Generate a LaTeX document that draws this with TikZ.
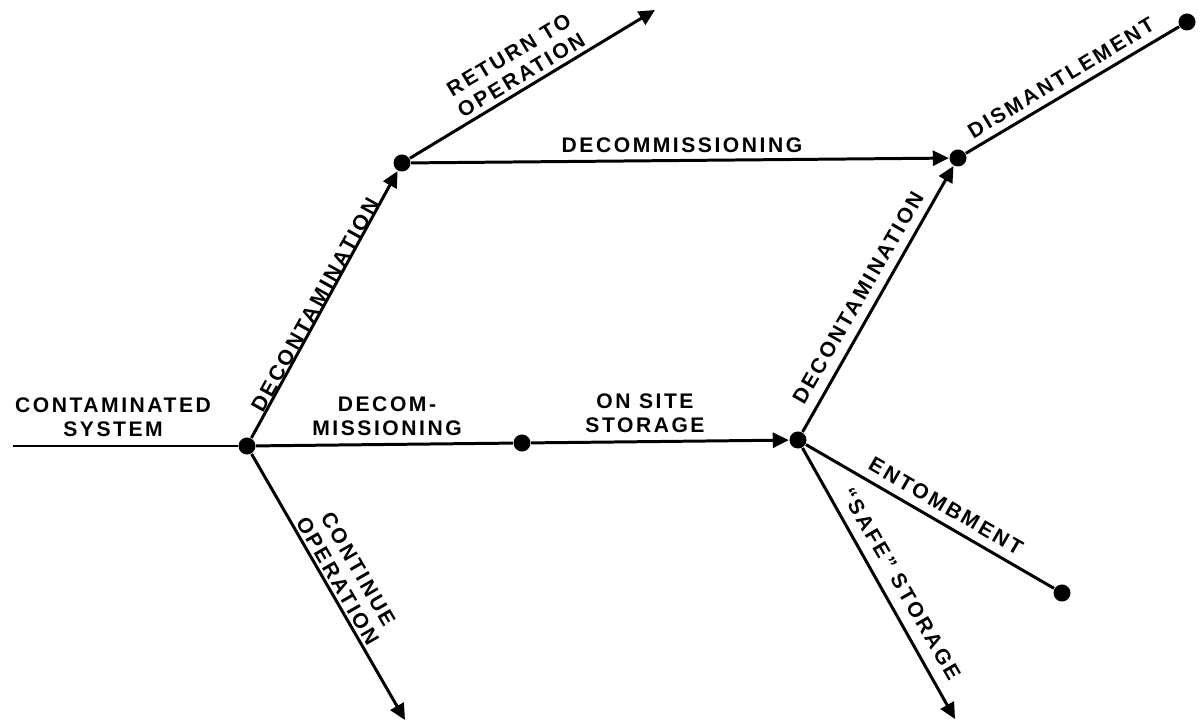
\documentclass[tikz,border=0pt]{standalone}
\usepackage{fontspec}
\setmainfont{Liberation Sans}[LetterSpace=12]
\usetikzlibrary{arrows.meta}
\begin{document}
\begin{tikzpicture}[x=0.01cm,y=0.01cm,
  dot/.style={circle,fill=black,inner sep=0pt,minimum size=0.17cm},
  conn/.style={line width=0.85pt},
  arr/.style={conn,-{Triangle[length=0.16cm,width=0.15cm]}},
  lbl/.style={font=\fontsize{6}{6.8}\selectfont\bfseries,align=center,inner sep=0pt}]
\useasboundingbox (0,0) rectangle (1200,727);
% points
\coordinate (S0) at (13,281);
\node[dot] (A) at (247,281) {};
\node[dot] (B) at (402,564) {};
\coordinate (R) at (655,717);
\node[dot] (C) at (958,569) {};
\node[dot] (Dm) at (1187,705) {};
\node[dot] (M) at (522,284) {};
\node[dot] (D) at (798,287) {};
\node[dot] (E) at (1062,134) {};
\coordinate (SS) at (955,8);
\coordinate (CO) at (405,7);
% connectors
\draw[conn] (S0) -- (A);
\draw[arr] (A) -- (B);
\draw[arr] (B) -- (R);
\draw[arr] (B) -- (C);
\draw[conn] (C) -- (Dm);
\draw[conn] (A) -- (M);
\draw[arr] (M) -- (D);
\draw[arr] (D) -- (C);
\draw[conn] (D) -- (E);
\draw[arr] (D) -- (SS);
\draw[arr] (A) -- (CO);
% labels
\node[lbl] (t1) at (113,310) {CONTAMINATED\\SYSTEM};
\node[lbl,rotate=61] (t2) at (315,422) {DECONTAMINATION};
\node[lbl] (t3) at (387,311) {DECOM-\\MISSIONING};
\node[lbl] (t4) at (645,314) {ON SITE\\STORAGE};
\node[lbl,rotate=31] (t5) at (515,662) {RETURN TO\\OPERATION};
\node[lbl] (t6) at (682,582) {DECOMMISSIONING};
\node[lbl,rotate=31] (t7) at (1061,649) {DISMANTLEMENT};
\node[lbl,rotate=60] (t8) at (858,429) {DECONTAMINATION};
\node[lbl,rotate=-30] (t9) at (946,221) {ENTOMBMENT};
\node[lbl,rotate=-60] (t10) at (901,143) {“SAFE” STORAGE};
\node[lbl,rotate=-60] (t11) at (348,152) {CONTINUE\\OPERATION};
\end{tikzpicture}
\end{document}
